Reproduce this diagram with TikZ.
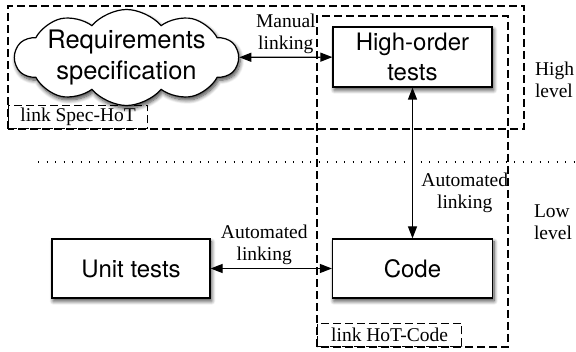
\documentclass[tikz,border=0pt]{standalone}
\usepackage{fontspec}
\setmainfont{Liberation Serif}
\newfontfamily\boxfont{TeX Gyre Heros}
\usetikzlibrary{shapes.symbols,shadows.blur,arrows.meta}

\tikzset{
  level box/.style={draw,line width=1.2pt,fill=white,align=center,inner sep=0pt,
    blur shadow={shadow xshift=1.5pt,shadow yshift=-3pt,shadow blur steps=8,shadow blur radius=4pt,shadow opacity=75},
    font=\boxfont\fontsize{24}{30}\selectfont},
  region/.style={draw,line width=1.2pt,dash pattern=on 8pt off 4pt},
  tag/.style={region,anchor=south west,minimum height=23pt,inner sep=0pt,
    font=\fontsize{19.5}{22}\selectfont},
  lbl/.style={align=center,font=\fontsize{19.5}{22}\selectfont},
  link/.style={line width=1.2pt,{Triangle[length=12pt,width=9pt]}-{Triangle[length=12pt,width=9pt]}}
}

\begin{document}
\begin{tikzpicture}[x=1pt,y=1pt]
  \useasboundingbox (0,0) rectangle (576,351);
  \draw [region] (8,222) rectangle (524,345);
  \draw [region] (317,4) rectangle (508,335);
  \node [tag,minimum width=139pt] (tagSpec) at (8,222) {link Spec-HoT};
  \node [tag,minimum width=144pt] (tagCode) at (317,4) {link HoT-Code};
  \coordinate (dotL) at (38,189);
  \coordinate (dotR) at (576,189);
  \draw [line width=1.2pt,dash pattern=on 1.2pt off 7.3pt] (dotL) -- (dotR);
  \node [level box,cloud,cloud puffs=10,cloud puff arc=100,cloud ignores aspect,minimum width=223pt,minimum height=96pt] (spec) at (126.5,293.5) {};
  \node [font=\boxfont\fontsize{25.5}{31}\selectfont,align=center,inner sep=0pt] (specText) at (spec.center) {Requirements\\specification};
  \node [level box,minimum width=159pt,minimum height=60pt] (hot) at (412.5,294) {High-order\\tests};
  \node [level box,minimum width=160pt,minimum height=59pt] (code) at (412.5,82.5) {Code};
  \node [level box,minimum width=158pt,minimum height=59pt] (unit) at (131,82.5) {Unit tests};
  \node [lbl,align=left] (high) at (554.5,271) {High\\level};
  \node [lbl,align=left] (low) at (553,129) {Low\\level};
  \draw [link] (spec) -- node [lbl,above] {Manual\\linking} (hot);
  \draw [link] (hot) -- node [lbl,right=5pt,pos=0.7] {Automated\\linking} (code);
  \draw [link] (unit) -- node [lbl,above,xshift=-7pt] {Automated\\linking} (code);
\end{tikzpicture}
\end{document}
